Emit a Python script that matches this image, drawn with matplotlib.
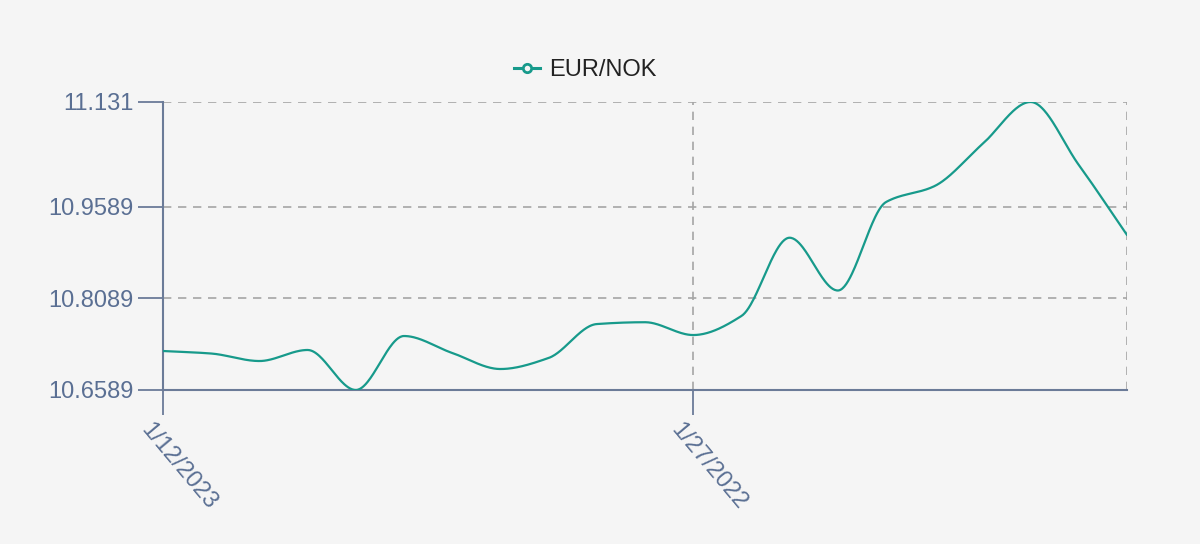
import numpy as np
import matplotlib
matplotlib.use("Agg")
import matplotlib.pyplot as plt
from matplotlib.lines import Line2D
from matplotlib.transforms import ScaledTranslation

plt.rcParams['font.family'] = ['Liberation Sans', 'DejaVu Sans']

series_name = "EUR/NOK"
values = [10.7228, 10.7187, 10.7064, 10.7245, 10.6589, 10.7474, 10.7196, 10.6933,
          10.7114, 10.7670, 10.7700, 10.7490, 10.7802, 10.9085, 10.8220, 10.9670,
          10.9929, 11.0620, 11.1310, 11.0278, 10.9130]
tick_positions = [0, 11]
tick_labels = ["1/12/2023", "1/27/2022"]
y_ticks = [10.6589, 10.8089, 10.9589, 11.131]
y_tick_labels = ["10.6589", "10.8089", "10.9589", "11.131"]

BG = "#f5f5f5"
LINE = "#179a8b"
AXIS = "#6b7b98"
LABEL = "#5a6f93"
GRID = "#a5a5a5"


def pchip(x, y, xs):
    x = np.asarray(x, float); y = np.asarray(y, float)
    h = np.diff(x); d = np.diff(y) / h
    n = len(x); m = np.zeros(n)
    for k in range(1, n - 1):
        if d[k - 1] * d[k] > 0:
            w1 = 2 * h[k] + h[k - 1]; w2 = h[k] + 2 * h[k - 1]
            m[k] = (w1 + w2) / (w1 / d[k - 1] + w2 / d[k])
    m[0] = d[0]; m[-1] = d[-1]
    idx = np.clip(np.searchsorted(x, xs) - 1, 0, n - 2)
    t = (xs - x[idx]) / h[idx]
    h00 = 2 * t**3 - 3 * t**2 + 1; h10 = t**3 - 2 * t**2 + t
    h01 = -2 * t**3 + 3 * t**2; h11 = t**3 - t**2
    return h00 * y[idx] + h10 * h[idx] * m[idx] + h01 * y[idx + 1] + h11 * h[idx] * m[idx + 1]


fig = plt.figure(figsize=(12, 5.44), dpi=100, facecolor=BG)
ax = fig.add_axes([163 / 1200, 1 - 390 / 544, (1127 - 163) / 1200, (390 - 102) / 544])
ax.set_facecolor(BG)

x = np.arange(len(values))
xs = np.linspace(0, len(values) - 1, 1000)
ax.plot(xs, pchip(x, values, xs), color=LINE, lw=1.6, zorder=3, solid_capstyle='round')

ax.set_xlim(0, len(values) - 1)
ax.set_ylim(y_ticks[0], y_ticks[-1])

ax.set_yticks(y_ticks)
ax.set_yticklabels(y_tick_labels)
ax.set_xticks(tick_positions)
ax.set_xticklabels([""] * len(tick_positions))

label_tr = ax.get_xaxis_transform() + ScaledTranslation(-10 / 100, -29 / 100, fig.dpi_scale_trans)
for pos, lab in zip(tick_positions, tick_labels):
    ax.text(pos, 0, lab, transform=label_tr, rotation=-50, ha='left', va='top',
            rotation_mode='anchor', fontsize=17, color=LABEL, clip_on=False)

ax.tick_params(axis='both', colors=AXIS, length=18, width=1.3, labelsize=17, labelcolor=LABEL)
ax.tick_params(axis='y', pad=3)

dash = (0, (5, 4))
for yv in y_ticks[1:]:
    ax.axhline(yv, color=GRID, lw=1.2, ls=dash, zorder=1)
for xv in tick_positions[1:] + [len(values) - 1]:
    ax.axvline(xv, color=GRID, lw=1.2, ls=dash, zorder=1)

for s in ['top', 'right']:
    ax.spines[s].set_visible(False)
for s in ['left', 'bottom']:
    ax.spines[s].set_color(AXIS)
    ax.spines[s].set_linewidth(1.5)

handle = Line2D([0], [0], color=LINE, lw=2.2, marker='o', markersize=6,
                markerfacecolor=BG, markeredgecolor=LINE, markeredgewidth=2)
fig.legend([handle], [series_name], loc='center', bbox_to_anchor=(585 / 1200, 1 - 70 / 544),
           frameon=False, fontsize=17, handlelength=1.1, handletextpad=0.4,
           labelcolor='#222222')

fig.savefig("out.png", dpi=100, facecolor=BG)
